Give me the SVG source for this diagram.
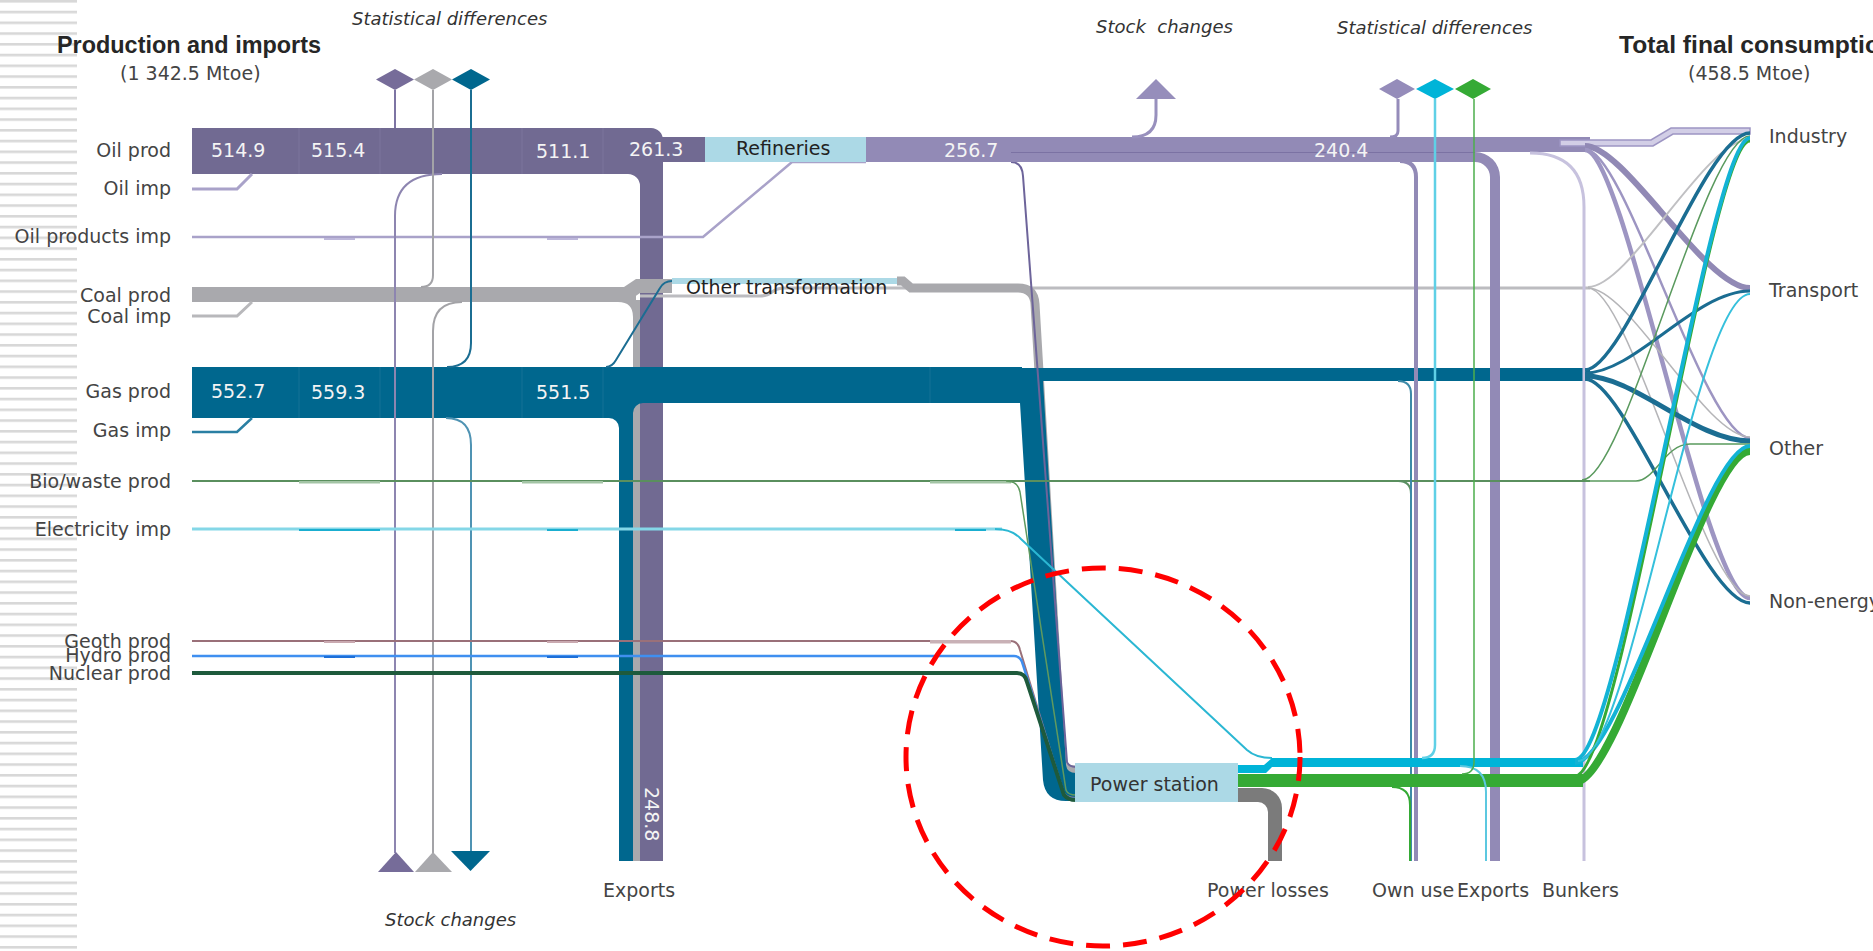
<svg xmlns="http://www.w3.org/2000/svg" width="1873" height="951" viewBox="0 0 1873 951">
<defs>
<pattern id="stripes" x="0" y="0" width="77" height="10.75" patternUnits="userSpaceOnUse">
<rect x="0" y="0" width="77" height="2.6" fill="#d8d8d8"/>
</pattern>
</defs>
<style>
.lbl{font-family:"DejaVu Sans",Verdana,sans-serif;font-size:19px;fill:#444444}
.val{font-family:"DejaVu Sans",Verdana,sans-serif;font-size:19px;fill:#f4f4f4}
.title{font-family:"Liberation Sans",Arial,sans-serif;font-size:23.5px;font-weight:bold;fill:#262626}
.sub{font-family:"DejaVu Sans",Verdana,sans-serif;font-size:19px;fill:#444444}
.it{font-family:"DejaVu Sans",Verdana,sans-serif;font-size:18px;font-style:italic;fill:#333}
.ln{fill:none}
.node{fill:#acd9e6}
</style>
<rect width="1873" height="951" fill="#ffffff"/>
<rect x="0" y="0" width="77" height="951" fill="url(#stripes)"/>

<g id="connectors">
 <!-- coal band and exports -->
 <rect x="192" y="287" width="444" height="15" fill="#a9a9ad"/>
 <rect x="633" y="300" width="7" height="561" fill="#a9a9ad"/>
 <path d="M618,302 Q633,302 633,317 V302 Z" fill="#a9a9ad"/>
 <!-- oil band, exports and refinery input -->
 <path d="M192,128 H651 A12,12 0 0 1 663,140 V861 H640 V186 A12,12 0 0 0 628,174 H192 Z" fill="#716a92"/>
 <rect x="603" y="137" width="102" height="25" fill="#716a92"/>
 <g stroke="#8079a0" stroke-width="1" opacity="0.8">
  <path d="M299,128 V174 M380,128 V174 M522,128 V174 M603,128 V174"/>
 </g>
 <!-- coal to other transformation -->
 <path d="M600,287 H624 L636,279 H672 V293 H640 L630,300 H600 Z" fill="#a9a9ad"/>
 <path class="ln" d="M640,296 H760 Q767,296 772,292 Q777,288 785,288 H1590" stroke="#bcbcc0" stroke-width="3"/>
 <!-- other transformation to power station -->
 <path class="ln" d="M897,281 H903 L911,288 H1018 Q1034,288 1035,304 L1062,762 Q1064,770 1076,770" stroke="#a9a9ad" stroke-width="9"/>
 <!-- gas band and exports -->
 <path d="M192,367 H1022 V403 H643 A10,10 0 0 0 633,413 V861 H619 V428 A10,10 0 0 0 609,418 H192 Z" fill="#00678e"/>
 <rect x="1020" y="368" width="570" height="13" fill="#00678e"/>
 <path d="M1020,381 H1043 L1066,765 Q1067,773 1076,773 V801 H1066 Q1045,801 1043,780 L1020,403 Z" fill="#00678e"/>
 <g stroke="#1b7699" stroke-width="1" opacity="0.8">
  <path d="M299,367 V418 M380,367 V418 M522,367 V418 M603,367 V418 M930,367 V403"/>
 </g>
 <!-- gas to other transformation -->
 <path class="ln" d="M606,367 Q612,367 616,360 L660,288 Q664,281 672,281" stroke="#1b6d92" stroke-width="2"/>
 <!-- oil to power station -->
 <path class="ln" d="M1011,162 Q1022,162 1023,176 L1067,762 Q1069,767 1076,767" stroke="#6d649a" stroke-width="2"/>

 <!-- imports -->
 <path class="ln" d="M192,189 H237 L252,174" stroke="#a9a2c9" stroke-width="3"/>
 <path class="ln" d="M192,316 H237 L252,302" stroke="#b8b8bb" stroke-width="3"/>
 <path class="ln" d="M192,432 H237 L252,418" stroke="#2a7fa3" stroke-width="2.5"/>
 <path class="ln" d="M192,237 H703 L792,162 H866" stroke="#a9a2c9" stroke-width="2.5"/>
 <rect x="324" y="238" width="31" height="2" fill="#bdb7da"/>
 <rect x="547" y="238" width="31" height="2" fill="#bdb7da"/>

 <!-- refined products -->
 <path d="M866,137 H1590 V152 H1475 A25,25 0 0 1 1500,177 V861 H1490 V177 A15,15 0 0 0 1475,162 H866 Z" fill="#928ab6"/>
 <path class="ln" d="M1011,152.5 H1475" stroke="#7b72a3" stroke-width="1.2"/>
 <path class="ln" d="M1132,137 Q1156,137 1156,115 V98" stroke="#9890bd" stroke-width="3"/>
 <path class="ln" d="M1400,161 Q1416,161 1416,177 V861" stroke="#928ab6" stroke-width="4"/>
 <path class="ln" d="M1530,153 Q1584,153 1584,207 V861" stroke="#c7c2de" stroke-width="3"/>

 <!-- left statistical differences / stock changes -->
 <path class="ln" d="M395,90 V128" stroke="#7d74a3" stroke-width="2"/>
 <path class="ln" d="M442,174 Q395,174 395,216 V853" stroke="#8d85b0" stroke-width="2"/>
 <path class="ln" d="M433,90 V275 Q433,287 421,287" stroke="#a3a3a7" stroke-width="2"/>
 <path class="ln" d="M462,302 Q433,302 433,331 V853" stroke="#a3a3a7" stroke-width="2"/>
 <path class="ln" d="M471,90 V343 Q471,367 447,367" stroke="#1b6d92" stroke-width="2"/>
 <path class="ln" d="M446,418 Q471,418 471,445 V852" stroke="#4f93b3" stroke-width="2"/>

 <!-- bio / waste -->
 <path class="ln" d="M192,481 H1590" stroke="#5a8f5e" stroke-width="2"/>
 <rect x="299" y="481" width="81" height="2.5" fill="#a3c4a5"/>
 <rect x="522" y="481" width="81" height="2.5" fill="#a3c4a5"/>
 <rect x="930" y="481" width="81" height="2.5" fill="#a3c4a5"/>
 <path class="ln" d="M1006,481 Q1018,481 1020,492 L1066,790 Q1068,795 1076,795" stroke="#5f9a5f" stroke-width="1.5"/>
 <path class="ln" d="M1398,481 Q1411,481 1411,494 V861" stroke="#5a8f62" stroke-width="2"/>
 <path class="ln" d="M1398,381 Q1411,381 1411,394 V861" stroke="#3d8aa8" stroke-width="2"/>

 <!-- electricity imports -->
 <path class="ln" d="M192,529 H1002" stroke="#84d7e7" stroke-width="3"/>
 <rect x="299" y="529" width="81" height="2" fill="#1aaed0"/>
 <rect x="547" y="529" width="31" height="2" fill="#1aaed0"/>
 <rect x="955" y="529" width="31" height="2" fill="#1aaed0"/>
 <path class="ln" d="M995,529 Q1012,529 1021,539 L1247,750 Q1256,758 1272,758" stroke="#2bb7d3" stroke-width="2"/>

 <!-- geothermal, hydro, nuclear -->
 <path class="ln" d="M192,641 H1010 Q1018,641 1020,650 L1063,792 Q1066,798 1076,798" stroke="#9a7079" stroke-width="2"/>
 <path class="ln" d="M192,656 H1014 Q1021,656 1023,665 L1064,794 Q1067,799 1076,799" stroke="#3f8ff0" stroke-width="2.5"/>
 <path class="ln" d="M192,673 H1017 Q1025,673 1027,682 L1064,795 Q1068,800 1076,800" stroke="#1e5a3c" stroke-width="4"/>
 <rect x="930" y="640" width="81" height="3.5" fill="#c9b1b6"/>
 <rect x="324" y="641" width="31" height="2" fill="#c9a9b0"/>
 <rect x="547" y="641" width="31" height="2" fill="#c9a9b0"/>
 <rect x="324" y="656" width="31" height="2" fill="#1d6fd8"/>
 <rect x="547" y="656" width="31" height="2" fill="#1d6fd8"/>

 <!-- power station outputs -->
 <path d="M1238,765 H1264 L1272,758 H1583 V767 H1272 L1266,773 H1238 Z" fill="#00b4d8"/>
 <rect x="1238" y="774" width="345" height="13" fill="#35aa35"/>
 <path d="M1238,788 H1262 A20,20 0 0 1 1282,808 V861 H1268 V812 A10,10 0 0 0 1258,802 H1238 Z" fill="#7b7b7b"/>
 <path class="ln" d="M1392,787 Q1410,787 1410,805 V861" stroke="#35aa35" stroke-width="2"/>
 <path class="ln" d="M1460,766 Q1486,766 1486,792 V861" stroke="#5cc8e0" stroke-width="2"/>

 <!-- right statistical differences -->
 <path class="ln" d="M1398,99 V131 Q1398,137 1390,137" stroke="#958cba" stroke-width="3"/>
 <path class="ln" d="M1435,99 V745 Q1435,758 1422,758" stroke="#5fd0e6" stroke-width="2.5"/>
 <path class="ln" d="M1474,99 V762 Q1474,774 1462,774" stroke="#4caf4c" stroke-width="1.5"/>

 <!-- fan to final consumption -->
 <path d="M1560,140 H1651 L1671,128 H1750 V134 H1673 L1653,146 H1560 Z" fill="#d2cee6" stroke="#9d95c3" stroke-width="1.5"/>
 <path class="ln" d="M1585,146 C1625,146 1705,288 1750,288" stroke="#9189b5" stroke-width="6"/>
 <path class="ln" d="M1585,149 C1625,149 1705,438 1750,438" stroke="#9d95c2" stroke-width="2.5"/>
 <path class="ln" d="M1585,150 C1625,150 1705,598 1750,598" stroke="#9d95c2" stroke-width="4.5"/>
 <path class="ln" d="M1588,287 C1630,287 1705,139 1750,139" stroke="#c0c0c3" stroke-width="2"/>
 <path class="ln" d="M1588,288 C1630,288 1705,437 1750,437" stroke="#b5b5b8" stroke-width="1.5"/>
 <path class="ln" d="M1588,288 C1630,288 1705,596 1750,596" stroke="#b5b5b8" stroke-width="1.5"/>
 <path class="ln" d="M1585,370 C1625,370 1705,133 1750,133" stroke="#1b6d92" stroke-width="3.5"/>
 <path class="ln" d="M1585,373 C1635,373 1695,291 1750,291" stroke="#1b6d92" stroke-width="3"/>
 <path class="ln" d="M1585,376 C1635,376 1695,441 1750,441" stroke="#1b6d92" stroke-width="5"/>
 <path class="ln" d="M1585,379 C1625,379 1705,603 1750,603" stroke="#1b6d92" stroke-width="3.5"/>
 <path class="ln" d="M1582,480 C1625,480 1705,136 1750,136" stroke="#5a9a5e" stroke-width="1.5"/>
 <path class="ln" d="M1585,481 H1636 C1655,481 1665,444 1690,444 H1750" stroke="#5a9a5e" stroke-width="1.5"/>
 <path class="ln" d="M1575,782 C1620,782 1705,451 1750,451" stroke="#35aa35" stroke-width="8"/>
 <path class="ln" d="M1575,763 C1620,763 1705,446 1750,446" stroke="#13b3d5" stroke-width="4"/>
 <path class="ln" d="M1575,776 C1620,776 1710,141 1750,141" stroke="#35aa35" stroke-width="3"/>
 <path class="ln" d="M1575,760 C1620,760 1710,138 1750,138" stroke="#13b3d5" stroke-width="4"/>
 <path class="ln" d="M1578,761 C1630,761 1695,294 1750,294" stroke="#35c0dc" stroke-width="2"/>

 <!-- markers: diamonds and triangles -->
 <path d="M376,79.5 L395,69 L414,79.5 L395,90 Z" fill="#766c99"/>
 <path d="M414,79.5 L433,69 L452,79.5 L433,90 Z" fill="#a9a9ad"/>
 <path d="M452,79.5 L471,69 L490,79.5 L471,90 Z" fill="#00678e"/>
 <path d="M378,872 L396,852 L414,872 Z" fill="#766c99"/>
 <path d="M415,872 L433,852 L452,872 Z" fill="#a9a9ad"/>
 <path d="M451,851 L490,851 L470.5,871 Z" fill="#00678e"/>
 <path d="M1379,89 L1397,79 L1415,89 L1397,99 Z" fill="#958cba"/>
 <path d="M1416,89 L1435,79 L1454,89 L1435,99 Z" fill="#00b4d8"/>
 <path d="M1455,89 L1473,79 L1491,89 L1473,99 Z" fill="#35aa35"/>
 <path d="M1136,99 L1156,79 L1176,99 Z" fill="#968ebb"/>
</g>

<g id="node-refineries">
 <rect class="node" x="705" y="137" width="161" height="25"/>
 <text class="lbl" x="736" y="155" style="fill:#222">Refineries</text>
</g>
<g id="node-other-transformation">
 <rect class="node" x="672" y="278" width="225" height="6"/>
 <text class="lbl" x="686" y="294" style="fill:#222">Other transformation</text>
</g>
<g id="node-power-station">
 <rect class="node" x="1075" y="763" width="163" height="39"/>
 <text class="lbl" x="1090" y="791" style="fill:#333">Power station</text>
</g>

<g id="values">
 <text class="val" x="211" y="157">514.9</text>
 <text class="val" x="311" y="157">515.4</text>
 <text class="val" x="536" y="158">511.1</text>
 <text class="val" x="629" y="156">261.3</text>
 <text class="val" x="944" y="157">256.7</text>
 <text class="val" x="1314" y="157">240.4</text>
 <text class="val" x="211" y="398">552.7</text>
 <text class="val" x="311" y="399">559.3</text>
 <text class="val" x="536" y="399">551.5</text>
 <text class="val" transform="translate(645,787) rotate(90)">248.8</text>
</g>

<g id="node-production-header">
 <text class="title" x="57" y="53" textLength="264" lengthAdjust="spacingAndGlyphs">Production and imports</text>
 <text class="sub" x="120" y="80">(1 342.5 Mtoe)</text>
</g>
<g id="node-consumption-header">
 <text class="title" x="1619" y="53" textLength="276" lengthAdjust="spacingAndGlyphs">Total final consumption</text>
 <text class="sub" x="1688" y="80">(458.5 Mtoe)</text>
</g>

<g id="node-oil-prod"><text class="lbl" x="171" y="157" text-anchor="end">Oil prod</text></g>
<g id="node-oil-imp"><text class="lbl" x="171" y="195" text-anchor="end">Oil imp</text></g>
<g id="node-oil-products-imp"><text class="lbl" x="171" y="243" text-anchor="end">Oil products imp</text></g>
<g id="node-coal-prod"><text class="lbl" x="171" y="302" text-anchor="end">Coal prod</text></g>
<g id="node-coal-imp"><text class="lbl" x="171" y="323" text-anchor="end">Coal imp</text></g>
<g id="node-gas-prod"><text class="lbl" x="171" y="398" text-anchor="end">Gas prod</text></g>
<g id="node-gas-imp"><text class="lbl" x="171" y="437" text-anchor="end">Gas imp</text></g>
<g id="node-bio-prod"><text class="lbl" x="171" y="488" text-anchor="end">Bio/waste prod</text></g>
<g id="node-elec-imp"><text class="lbl" x="171" y="536" text-anchor="end">Electricity imp</text></g>
<g id="node-geoth-prod"><text class="lbl" x="171" y="648" text-anchor="end">Geoth prod</text></g>
<g id="node-hydro-prod"><text class="lbl" x="171" y="662" text-anchor="end">Hydro prod</text></g>
<g id="node-nuclear-prod"><text class="lbl" x="171" y="680" text-anchor="end">Nuclear prod</text></g>

<g id="node-industry"><text class="lbl" x="1769" y="143">Industry</text></g>
<g id="node-transport"><text class="lbl" x="1769" y="297">Transport</text></g>
<g id="node-other"><text class="lbl" x="1769" y="455">Other</text></g>
<g id="node-non-energy"><text class="lbl" x="1769" y="608">Non-energy</text></g>

<g id="node-exports-left"><text class="lbl" x="603" y="897">Exports</text></g>
<g id="node-power-losses"><text class="lbl" x="1207" y="897">Power losses</text></g>
<g id="node-own-use"><text class="lbl" x="1372" y="897">Own use</text></g>
<g id="node-exports-right"><text class="lbl" x="1457" y="897">Exports</text></g>
<g id="node-bunkers"><text class="lbl" x="1542" y="897">Bunkers</text></g>

<g id="node-stat-diff-left"><text class="it" x="352" y="25">Statistical differences</text></g>
<g id="node-stock-changes-left"><text class="it" x="385" y="926">Stock changes</text></g>
<g id="node-stock-changes-top"><text class="it" x="1096" y="33" xml:space="preserve">Stock  changes</text></g>
<g id="node-stat-diff-right"><text class="it" x="1337" y="34">Statistical differences</text></g>

<g id="highlight">
 <ellipse cx="1103" cy="757" rx="197" ry="189" fill="none" stroke="#ff0000" stroke-width="5" stroke-dasharray="24 13"/>
</g>
</svg>
